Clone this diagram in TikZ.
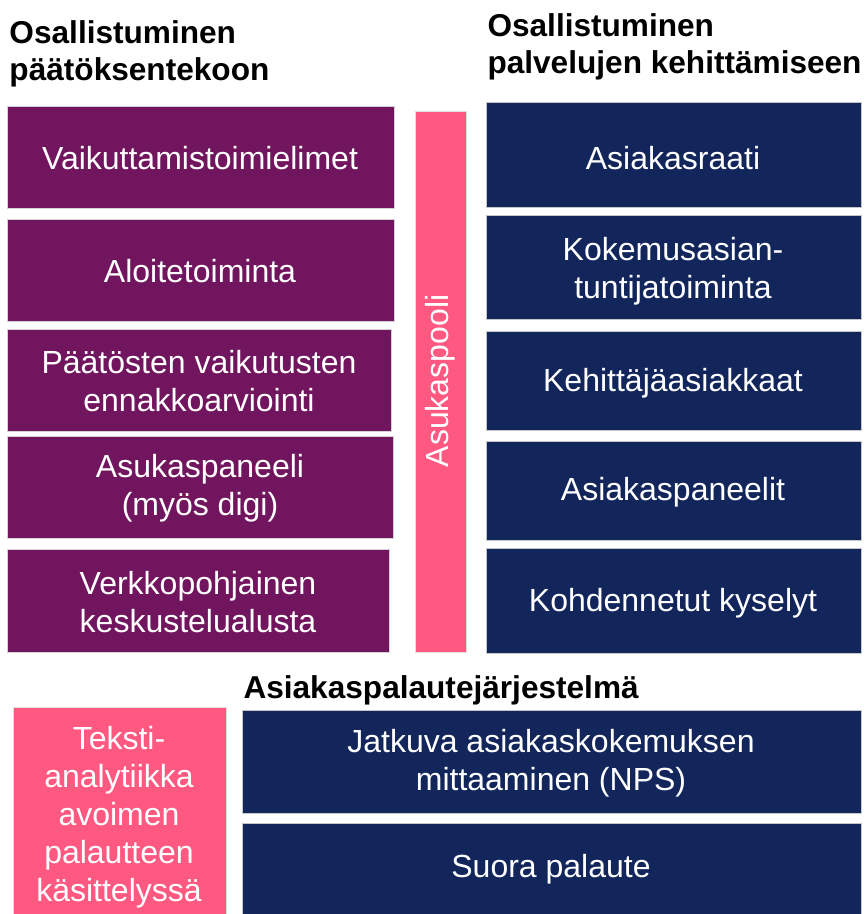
\documentclass[tikz,border=0pt]{standalone}
\usepackage{fontspec}
\setmainfont{Liberation Sans}

\definecolor{osalPurple}{RGB}{114,21,95}
\definecolor{osalNavy}{RGB}{18,38,92}
\definecolor{osalPink}{RGB}{255,89,129}

\tikzset{every picture/.style={line width=0.75pt}}
\tikzset{
  purplebox/.style={fill=osalPurple, draw=gray!35, line width=0.6pt},
  navybox/.style={fill=osalNavy, draw=gray!45, line width=0.6pt},
  pinkbox/.style={fill=osalPink, draw=gray!25, line width=0.6pt},
  boxtext/.style={text=white, align=center, font=\fontsize{24}{28.5}\selectfont},
  headtext/.style={align=left, font=\bfseries\fontsize{23.7}{28}\selectfont, inner sep=0pt}
}

\begin{document}
\begin{tikzpicture}[x=0.75pt,y=0.75pt,yscale=-1,xscale=1]
	\useasboundingbox (0,0) rectangle (866,914);

	%Shape: Rectangle [left column]
	\draw [purplebox] (7,106) rectangle (394,208) ;
	\draw [purplebox] (7,219) rectangle (394,321) ;
	\draw [purplebox] (7,329) rectangle (391,431) ;
	\draw [purplebox] (7,436) rectangle (393,538) ;
	\draw [purplebox] (7,549) rectangle (389,652) ;
	%Shape: Rectangle [pooli bar]
	\draw [pinkbox] (415,111) rectangle (466,652) ;
	%Shape: Rectangle [right column]
	\draw [navybox] (486,102) rectangle (861,207) ;
	\draw [navybox] (486,215) rectangle (861,319) ;
	\draw [navybox] (486,331) rectangle (861,430) ;
	\draw [navybox] (486,441) rectangle (861,540) ;
	\draw [navybox] (486,548) rectangle (861,653) ;
	%Shape: Rectangle [feedback]
	\draw [pinkbox] (13,707) rectangle (226,916) ;
	\draw [navybox] (242,710) rectangle (861,813) ;
	\draw [navybox] (242,823) rectangle (861,916) ;

	% Text Node
	\node [headtext, anchor=west] (titleLeft) at (9,54) {Osallistuminen\\päätöksentekoon};
	% Text Node
	\node [headtext, anchor=west] (titleRight) at (487,47) {Osallistuminen\\palvelujen kehittämiseen};
	% Text Node
	\node [headtext, anchor=west] (titleFeedback) at (243,690) {Asiakaspalautejärjestelmä};

	% Text Node
	\node [boxtext] (vaikuttamis) at (200,158) {Vaikuttamistoimielimet};
	% Text Node
	\node [boxtext] (aloite) at (200,271) {Aloitetoiminta};
	% Text Node
	\node [boxtext] (ennakko) at (199,381) {Päätösten vaikutusten\\ennakkoarviointi};
	% Text Node
	\node [boxtext] (asukaspaneeli) at (200,488) {Asukaspaneeli\\(myös digi)};
	% Text Node
	\node [boxtext] (verkko) at (198,602) {Verkkopohjainen\\keskustelualusta};

	% Text Node
	\node [boxtext, rotate=90] (pooli) at (440,381) {Asukaspooli};

	% Text Node
	\node [boxtext] (raati) at (673,158) {Asiakasraati};
	% Text Node
	\node [boxtext] (kokemus) at (673,271) {Kokemusasian-\\tuntijatoiminta};
	% Text Node
	\node [boxtext] (kehittaja) at (673,383) {Kehittäjäasiakkaat};
	% Text Node
	\node [boxtext] (paneelit) at (673,492) {Asiakaspaneelit};
	% Text Node
	\node [boxtext] (kyselyt) at (673,603) {Kohdennetut kyselyt};

	% Text Node
	\node [boxtext] (analytiikka) at (119,817) {Teksti-\\analytiikka\\avoimen\\palautteen\\käsittelyssä};
	% Text Node
	\node [boxtext] (nps) at (551,763) {Jatkuva asiakaskokemuksen\\mittaaminen (NPS)};
	% Text Node
	\node [boxtext] (suora) at (551,869) {Suora palaute};

\end{tikzpicture}
\end{document}
